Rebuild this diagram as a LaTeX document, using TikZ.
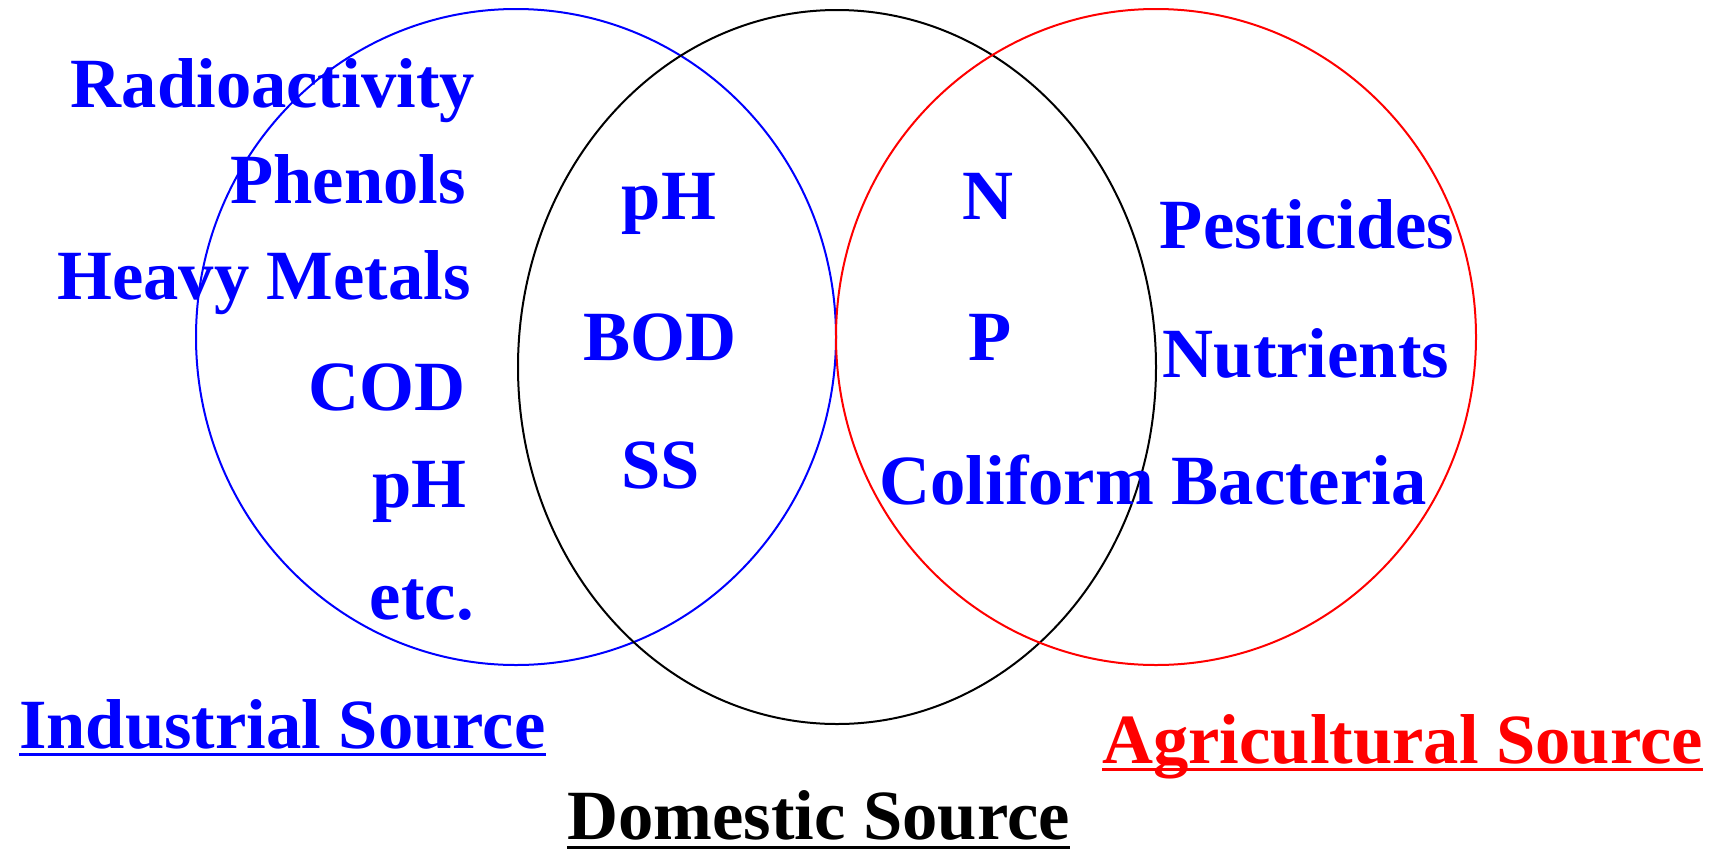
\documentclass[tikz,border=0pt]{standalone}
\usepackage{fontspec}
\setmainfont{Liberation Serif}
\begin{document}
\begin{tikzpicture}[x=1pt,y=-1pt,
  lbl/.style={inner sep=0pt, font=\fontsize{70.6}{84}\selectfont\bfseries},
  ring/.style={line width=2pt},
  uline/.style={line width=3pt}]
\useasboundingbox (0,0) rectangle (1711,852);
% sets
\draw[ring,blue] (516,337) ellipse [x radius=320pt, y radius=328pt];
\draw[ring,black] (837,367) ellipse [x radius=319pt, y radius=357pt];
\draw[ring,red] (1156,337) ellipse [x radius=320pt, y radius=328pt];
% industrial only
\node[lbl,text=blue,anchor=base east] (radio) at (475,107) {Radioactivity};
\node[lbl,text=blue,anchor=base east] (phen) at (466,203) {Phenols};
\node[lbl,text=blue,anchor=base east] (heavy) at (471,299) {Heavy Metals};
\node[lbl,text=blue,anchor=base east] (cod) at (466,410) {COD};
\node[lbl,text=blue,anchor=base east] (phl) at (467,507) {pH};
\node[lbl,text=blue,anchor=base east] (etc) at (474,619) {etc.};
% industrial & domestic
\node[lbl,text=blue,anchor=base] (phm) at (669,219) {pH};
\node[lbl,text=blue,anchor=base] (bod) at (660,360) {BOD};
\node[lbl,text=blue,anchor=base] (ss) at (661,488) {SS};
% domestic & agricultural
\node[lbl,text=blue,anchor=base] (nn) at (988,219) {N};
\node[lbl,text=blue,anchor=base] (pp) at (990,360) {P};
\node[lbl,text=blue,anchor=base] (coli) at (1153,504) {Coliform Bacteria};
% agricultural only
\node[lbl,text=blue,anchor=base] (pest) at (1307,248) {Pesticides};
\node[lbl,text=blue,anchor=base] (nutr) at (1306,377) {Nutrients};
% set labels
\node[lbl,text=blue,anchor=base west] (ind) at (19,748) {Industrial Source};
\draw[uline,blue] ([yshift=-6pt]ind.base west) -- ([yshift=-6pt]ind.base east);
\node[lbl,text=black,anchor=base west,text depth=0pt] (dom) at (567,839) {Domestic Source};
\draw[uline,black] ([yshift=-8pt]dom.base west) -- ([yshift=-8pt]dom.base east);
\node[lbl,text=red,anchor=base west] (agr) at (1102,763) {Agricultural Source};
\draw[uline,red] ([yshift=-6pt]agr.base west) -- ([yshift=-6pt]agr.base east);
\end{tikzpicture}
\end{document}
